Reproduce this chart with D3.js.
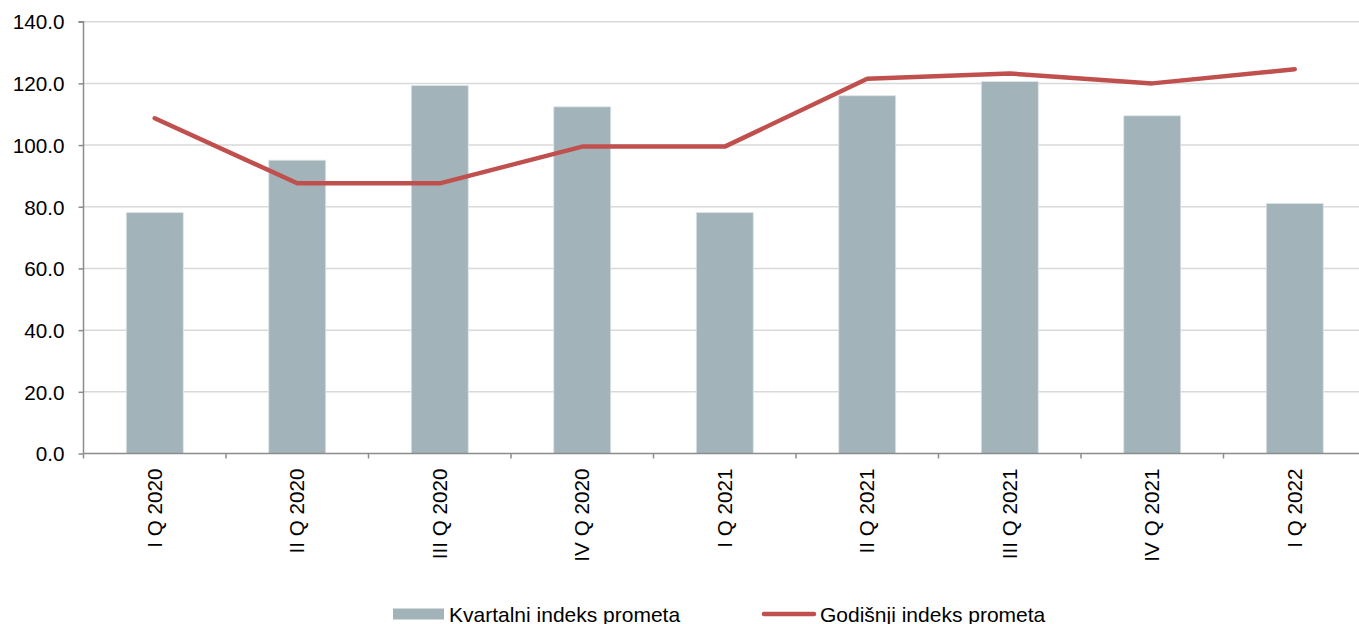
<!DOCTYPE html>
<html>
<head>
<meta charset="utf-8">
<script src="https://cdn.jsdelivr.net/npm/d3@7"></script>
<style>
  html, body { margin: 0; padding: 0; background: #fff; }
  svg { display: block; }
  text { font-family: "Liberation Sans", Arial, sans-serif; fill: #000; }
</style>
</head>
<body>
<svg id="chart" width="1359" height="624"></svg>
<script>
const categories = ["I Q 2020", "II Q 2020", "III Q 2020", "IV Q 2020", "I Q 2021", "II Q 2021", "III Q 2021", "IV Q 2021", "I Q 2022"];
const kvartalni = [78.1, 95.1, 119.3, 112.4, 78.1, 116.0, 120.6, 109.5, 81.1];
const godisnji = [108.7, 87.6, 87.6, 99.5, 99.5, 121.5, 123.2, 120.0, 124.6];
const yTicks = [0, 20, 40, 60, 80, 100, 120, 140];
const seriesNames = ["Kvartalni indeks prometa", "Godišnji indeks prometa"];

const barColor = "#a2b4ba";
const lineColor = "#c0504d";
const gridColor = "#d9d9d9";
const axisColor = "#8c8c8c";

const svg = d3.select("#chart");
const left = 83.5, right = 1366;
const y = d3.scaleLinear().domain([0, 140]).range([453.5, 21.7]);
const x = d3.scaleBand().domain(categories).range([left, right]).paddingInner(0.6).paddingOuter(0.3);

// gridlines
svg.append("g").selectAll("line").data(yTicks.filter(d => d > 0)).join("line")
  .attr("x1", left).attr("x2", 1359)
  .attr("y1", d => y(d)).attr("y2", d => y(d))
  .attr("stroke", gridColor).attr("stroke-width", 1.5);

// bars
svg.append("g").selectAll("rect").data(kvartalni).join("rect")
  .attr("x", (d, i) => x(categories[i]))
  .attr("width", x.bandwidth())
  .attr("y", d => y(d))
  .attr("height", d => y(0) - y(d))
  .attr("fill", barColor)
  .attr("stroke", "#dfe6e8").attr("stroke-width", 0.8);

// y axis
const yAxis = d3.axisLeft(y).tickValues(yTicks).tickFormat(d3.format(".1f")).tickSize(5).tickPadding(14);
const gy = svg.append("g").attr("transform", `translate(${left},0)`).call(yAxis);
gy.select(".domain").attr("stroke", axisColor).attr("stroke-width", 1.5).attr("d", `M-5,${y(140)}H0V${y(0)}`);
gy.selectAll(".tick line").attr("stroke", axisColor).attr("stroke-width", 1.5);
gy.selectAll(".tick text").style("font-size", "20.7px").style("font-family", "'Liberation Sans', Arial, sans-serif").attr("fill", "#000").attr("dy", "0.35em");

// x axis
const bounds = categories.map(c => x(c) - x.step() * x.paddingInner() / 2);
const gx = svg.append("g");
gx.append("line").attr("x1", left).attr("x2", 1359).attr("y1", y(0)).attr("y2", y(0))
  .attr("stroke", axisColor).attr("stroke-width", 1.5);
gx.selectAll("line.tk").data(bounds).join("line").attr("class", "tk")
  .attr("x1", d => d).attr("x2", d => d).attr("y1", y(0)).attr("y2", y(0) + 5)
  .attr("stroke", axisColor).attr("stroke-width", 1.5);
gx.selectAll("text").data(categories).join("text")
  .attr("transform", d => `translate(${x(d) + x.bandwidth() / 2 + 7},${y(0) + 15}) rotate(-90)`)
  .attr("text-anchor", "end")
  .style("font-size", "20.7px")
  .text(d => d);

// line
const line = d3.line().x((d, i) => x(categories[i]) + x.bandwidth() / 2).y(d => y(d));
svg.append("path").datum(godisnji).attr("d", line)
  .attr("fill", "none").attr("stroke", lineColor).attr("stroke-width", 4.5)
  .attr("stroke-linecap", "round").attr("stroke-linejoin", "round");

// legend
const lg = svg.append("g");
lg.append("rect").attr("x", 393).attr("y", 608.5).attr("width", 51).attr("height", 11).attr("fill", barColor);
lg.append("text").attr("x", 449).attr("y", 621.5).style("font-size", "21px").text(seriesNames[0]);
lg.append("line").attr("x1", 764).attr("x2", 814).attr("y1", 614).attr("y2", 614)
  .attr("stroke", lineColor).attr("stroke-width", 4.5).attr("stroke-linecap", "round");
lg.append("text").attr("x", 820).attr("y", 621.5).style("font-size", "21px").text(seriesNames[1]);
</script>
</body>
</html>
